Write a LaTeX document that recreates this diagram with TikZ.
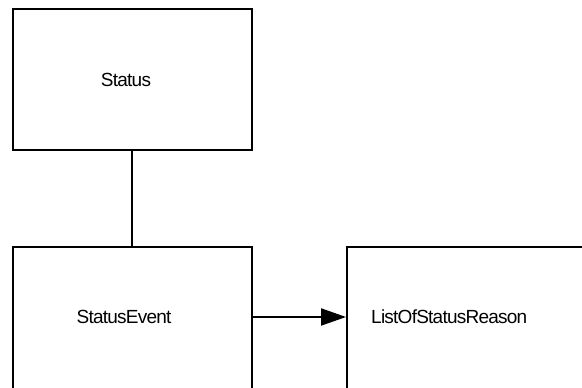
\documentclass[tikz,border=0pt]{standalone}
\usepackage{fontspec}
\setmainfont{Liberation Sans}
\usetikzlibrary{arrows.meta}
\begin{document}
\begin{tikzpicture}[x=1pt,y=1pt,
  box/.style={draw=black, line width=2pt, minimum width=239pt, inner sep=0pt},
  lbl/.style={font=\fontsize{19}{21}\selectfont\addfontfeature{LetterSpace=-4}, inner sep=0pt},
  conn/.style={draw=black, line width=2pt}]
\useasboundingbox (0,0) rectangle (582,388);
\clip (0,0) rectangle (582,388);
% y measured downward from top: y' = 388 - y
\node[box, minimum height=141pt] (status) at (132.5,308.5) {};
\node[lbl] (statusT) at (126,308) {Status};
\node[box, minimum height=180pt] (event) at (132.5,51) {};
\node[lbl] (eventT) at (124,71) {StatusEvent};
\node[box, minimum height=180pt, minimum width=260pt] (reason) at (477,51) {};
\node[lbl, anchor=west] (reasonT) at (371,71) {ListOfStatusReason};
\draw[conn] (status.south -| 131.7,0) -- (event.north -| 131.7,0);
\draw[conn, -{Triangle[length=25pt,width=17pt]}] (event.east |- 0,71) -- (reason.west |- 0,71);
\end{tikzpicture}
\end{document}
